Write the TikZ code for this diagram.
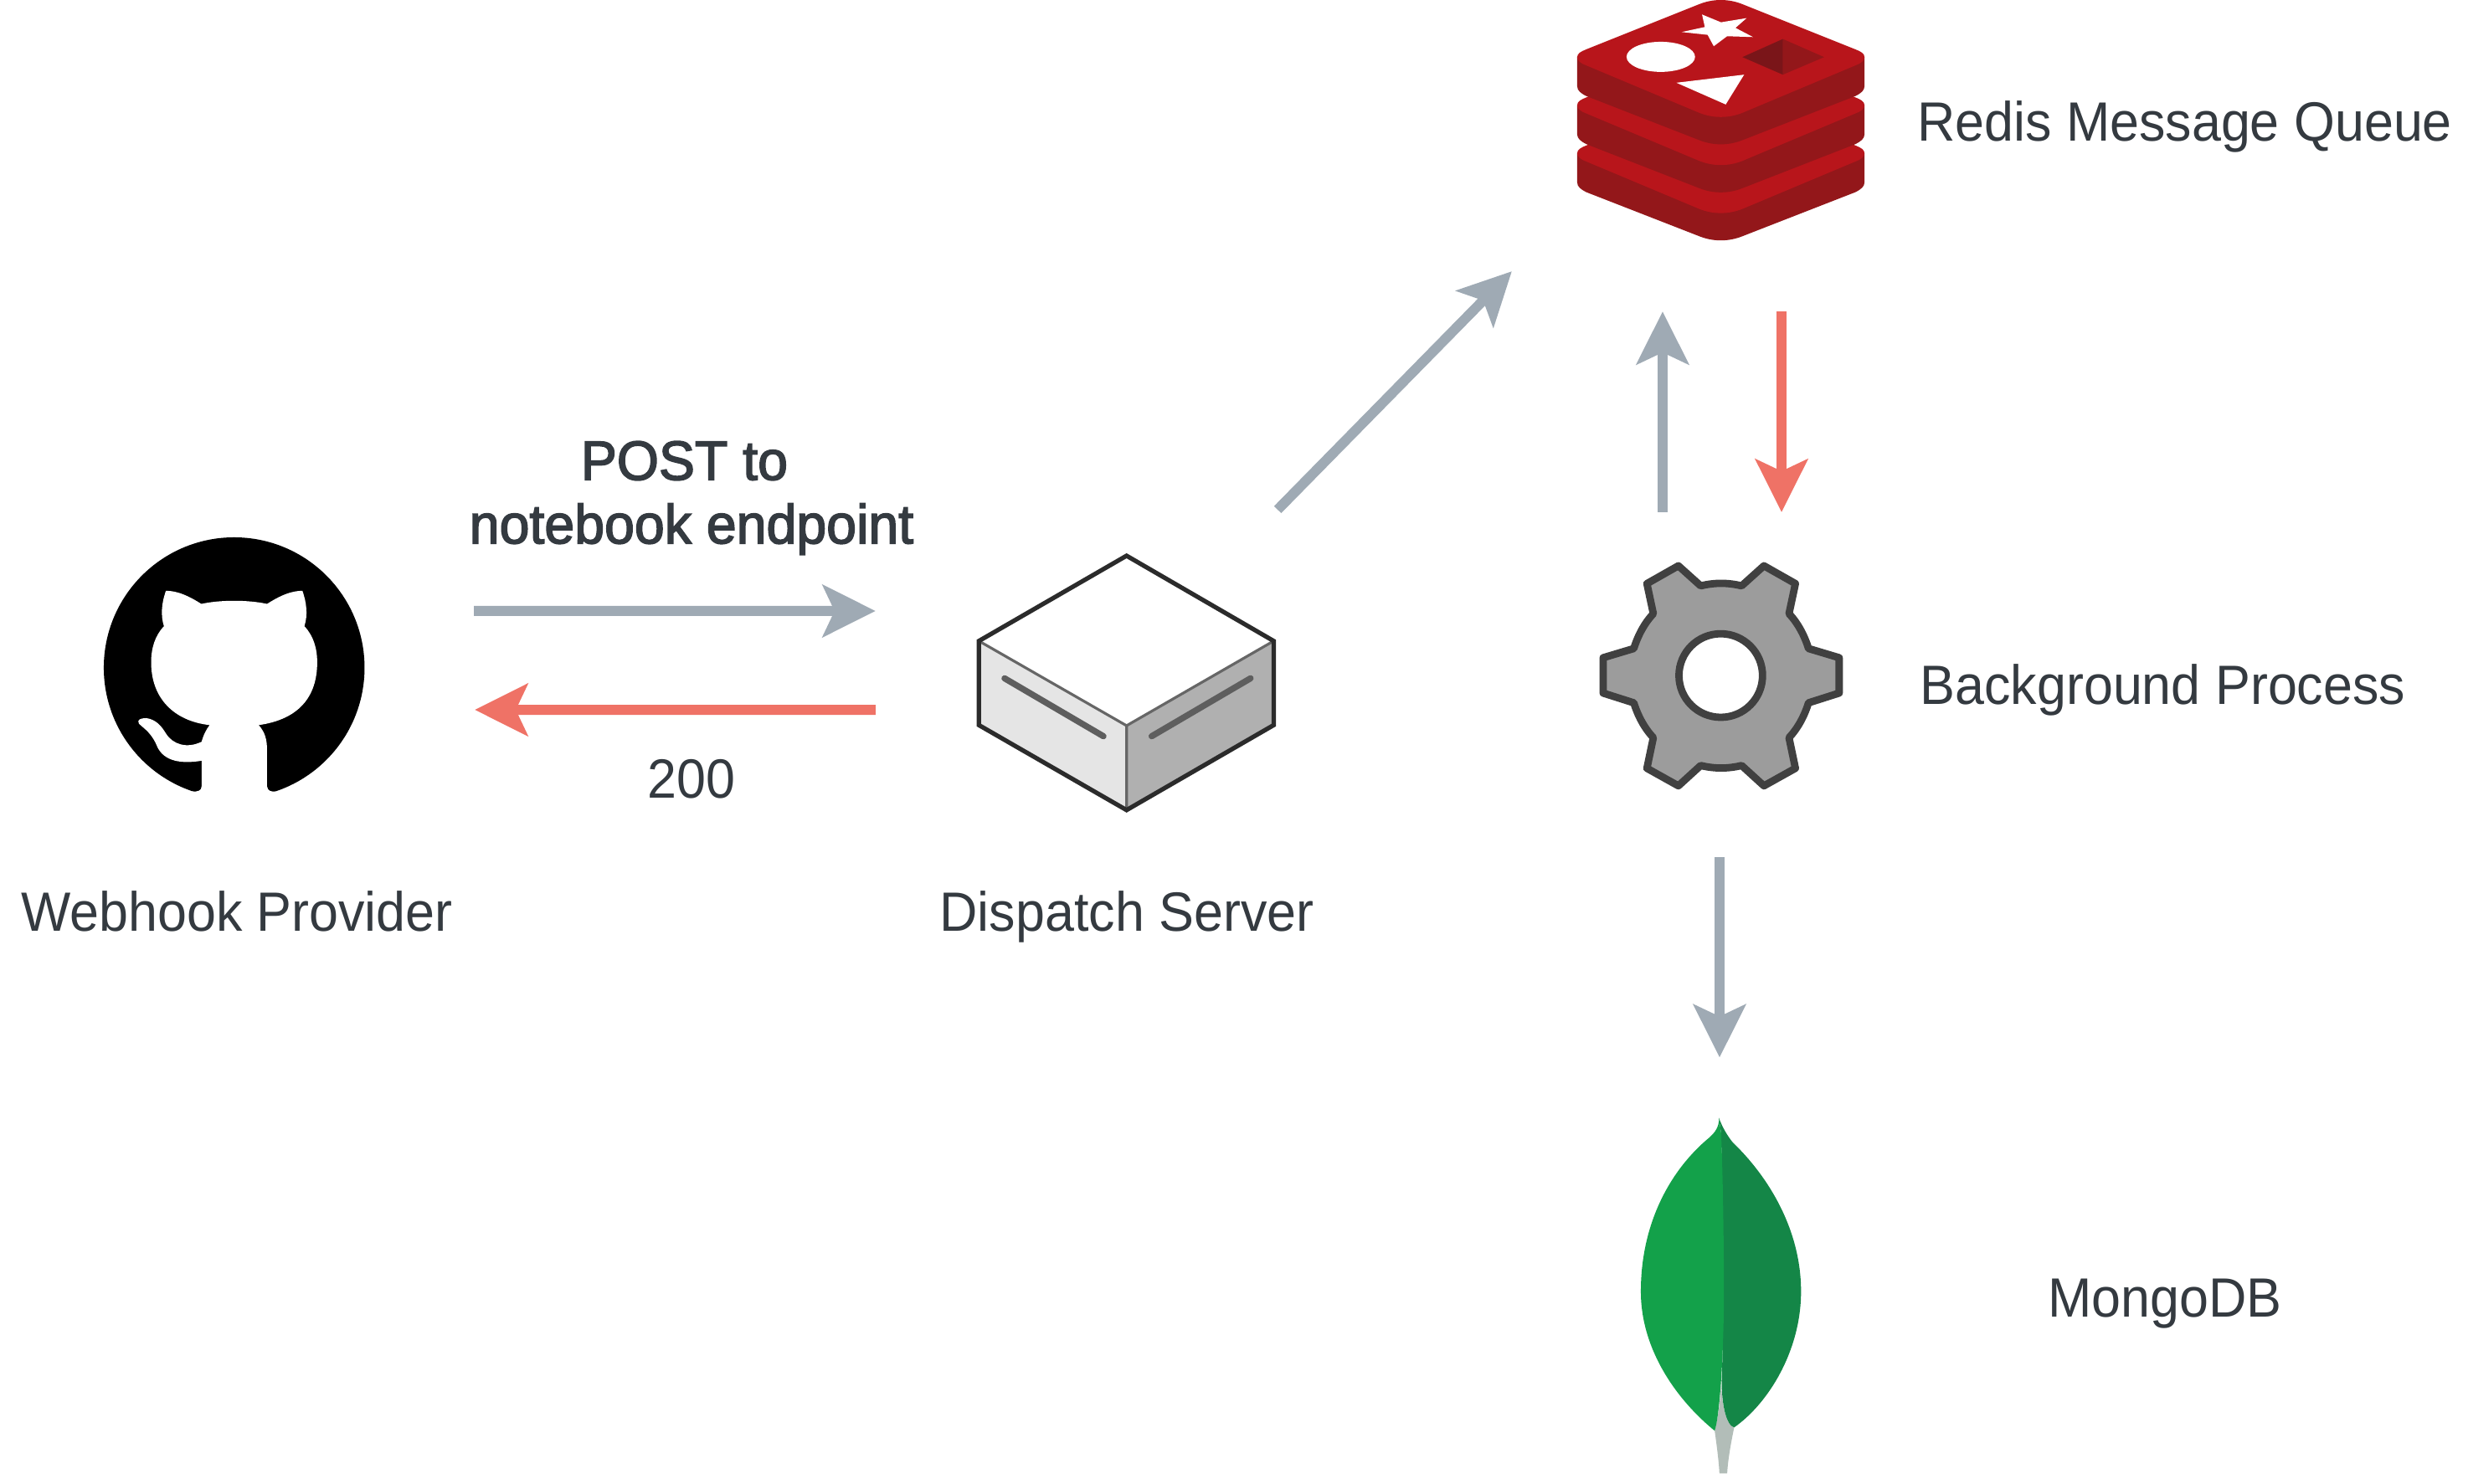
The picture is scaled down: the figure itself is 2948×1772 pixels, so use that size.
\documentclass[tikz,border=0pt]{standalone}
\usepackage{fontspec}
\setmainfont[FakeStretch=0.95]{Liberation Sans}
\newfontfamily\medfont[FakeStretch=0.975,FakeBold=2.4]{Liberation Sans}
\usetikzlibrary{arrows.meta,positioning}
\definecolor{textdark}{HTML}{343A40}
\definecolor{flowgrey}{HTML}{9FAAB4}
\definecolor{flowred}{HTML}{EF7266}
\definecolor{redisface}{HTML}{B8151B}
\definecolor{redisside}{HTML}{93171A}
\definecolor{redisdark}{HTML}{7A1519}
\definecolor{leaflight}{HTML}{13A14A}
\definecolor{leafdark}{HTML}{148647}
\definecolor{leafstem}{HTML}{B2BDB8}
\newcommand{\redislayer}{%
\fill[redisside] (72,205) -- (72,310) .. controls (72,325) and (85,335) .. (105,345) -- (510,503) .. controls (560,523) and (615,523) .. (665,503) -- (1070,345) .. controls (1090,335) and (1103,325) .. (1103,310) -- (1103,205) -- cycle;
\fill[redisface] (72,205) .. controls (72,192) and (85,185) .. (105,177) -- (510,15) .. controls (560,-5) and (615,-5) .. (665,15) -- (1070,177) .. controls (1090,185) and (1103,192) .. (1103,205) .. controls (1103,218) and (1090,228) .. (1070,235) -- (665,405) .. controls (615,425) and (560,425) .. (510,405) -- (105,235) .. controls (85,228) and (72,218) .. (72,205) -- cycle;
}
\begin{document}
\begin{tikzpicture}[x=0.01cm,y=-0.01cm,node distance=1cm,
icon/.style={inner sep=0pt,outer sep=0pt},
caption/.style={inner sep=0pt,outer sep=0pt,text=textdark,text height=0.5cm,text depth=0.14cm,font=\fontsize{18.8pt}{21.6pt}\selectfont},
arrow/.style={-{Stealth[length=17.9pt,width=17.6pt,inset=4pt]},line width=3.4pt,draw=flowgrey},
backarrow/.style={arrow,draw=flowred},
zoomed/.style={x=0.0033333cm,y=-0.0033333cm}]
\useasboundingbox (0,0) rectangle (2948,1772);

\node[icon,minimum width=3.12cm,minimum height=3.12cm] (webhook) at (280,798) {};
\node[icon,minimum width=3.58cm,minimum height=3.10cm] (server) at (1346,816) {};
\node[icon,minimum width=3.44cm,minimum height=2.88cm] (redis) at (2056,144) {};
\node[icon,minimum width=2.91cm,minimum height=2.72cm] (worker) at (2056,807) {};
\node[icon,minimum width=1.92cm,minimum height=4.27cm] (mongo) at (2056,1548) {};

\node[caption,below=1.08cm of webhook,xshift=0.03cm] (webhooklabel) {Webhook Provider};
\node[caption,below=0.91cm of server] (serverlabel) {Dispatch Server};
\node[caption,right=0.62cm of redis,yshift=-0.06cm] (redislabel) {Redis Message Queue};
\node[caption,right=0.92cm of worker,yshift=-0.16cm] (workerlabel) {Background Process};
\node[caption,right=2.94cm of mongo,yshift=-0.07cm] (mongolabel) {MongoDB};
\node[caption,text height=,text depth=,align=center,font=\fontsize{18.8pt}{21.6pt}\medfont] (post) at (826,595) {POST to\kern0.26em\\notebook endpoint};
\node[caption] (status) at (826,935) {200};

\draw[arrow,shorten <=1.30cm,shorten >=1.21cm] ([yshift=0.68cm]webhook.east) -- ([yshift=0.86cm]server.west);
\draw[backarrow,shorten <=1.21cm,shorten >=1.31cm] ([yshift=-0.32cm]server.west) -- ([yshift=-0.50cm]webhook.east);
\draw[arrow] ([xshift=1.80cm,yshift=0.52cm]server.north) -- ([xshift=-2.50cm,yshift=-0.36cm]redis.south);
\draw[arrow] ([xshift=-0.70cm,yshift=0.59cm]worker.north) -- ([xshift=-0.70cm,yshift=-0.84cm]redis.south);
\draw[backarrow] ([xshift=0.72cm,yshift=-0.84cm]redis.south) -- ([xshift=0.72cm,yshift=0.59cm]worker.north);
\draw[arrow] ([xshift=-0.02cm,yshift=-0.81cm]worker.south) -- ([xshift=-0.02cm,yshift=0.71cm]mongo.north);

\begin{scope}[shift={(100,620)},zoomed]
\fill[black] (540,534) circle [radius=468];
\fill[white] (295,258) .. controls (345,258) and (390,285) .. (422,305) .. controls (490,290) and (590,290) .. (658,305) .. controls (690,285) and (735,258) .. (785,258) .. controls (800,300) and (805,345) .. (792,385) .. controls (825,420) and (838,465) .. (838,515) .. controls (838,640) and (770,720) .. (628,740) .. controls (650,765) and (658,790) .. (658,830) -- (658,960) .. controls (660,978) and (675,980) .. (690,978) -- (690,1010) -- (390,1010) -- (390,978) .. controls (410,980) and (423,975) .. (423,960) -- (423,868) .. controls (350,880) and (290,870) .. (265,820) .. controls (245,770) and (220,755) .. (198,735) .. controls (190,720) and (205,715) .. (225,715) .. controls (260,720) and (280,745) .. (295,770) .. controls (320,810) and (370,825) .. (423,800) .. controls (430,775) and (440,755) .. (452,740) .. controls (320,725) and (242,640) .. (242,515) .. controls (242,465) and (255,420) .. (288,385) .. controls (275,345) and (280,300) .. (295,258) -- cycle;
\end{scope}

\begin{scope}[shift={(1140,640)},zoomed]
\fill[white] (618,72) -- (1146,378) -- (618,682) -- (88,378) -- cycle;
\fill[black!10] (88,378) -- (618,682) -- (618,985) -- (88,680) -- cycle;
\fill[black!31] (1146,378) -- (618,682) -- (618,985) -- (1146,680) -- cycle;
\draw[black!60,line width=0.9pt] (88,378) -- (618,682) -- (1146,378) (618,682) -- (618,985);
\draw[black!63,line width=2.1pt,line cap=round] (180,512) -- (535,720) (1063,512) -- (708,720);
\draw[black!83,line width=1.5pt,line join=miter] (618,72) -- (1146,378) -- (1146,680) -- (618,985) -- (88,680) -- (88,378) -- cycle;
\end{scope}

\begin{scope}[shift={(1860,0)},zoomed]
\foreach \dy in {345,172.5,0} {
\begin{scope}[shift={(0,\dy)}]
\redislayer
\end{scope}
}
\fill[white] (520,52) -- (588,80) -- (680,65) -- (640,100) -- (703,133) -- (610,130) -- (562,166) -- (540,125) -- (447,115) -- (530,97) -- cycle;
\fill[white] (372,204) ellipse [x radius=123,y radius=54];
\fill[white] (428,297) -- (671,268) -- (605,375) -- cycle;
\fill[redisside] (810,140) -- (958,205) -- (810,268) -- cycle;
\fill[redisdark] (810,140) -- (665,205) -- (810,268) -- cycle;
\end{scope}

\begin{scope}[shift={(1890,650)},zoomed]
\draw[fill=black!39,draw=black!75,line width=2.5pt,line join=round] (425,150) .. controls (475,138) and (522,138) .. (572,150) -- (652,78) -- (765,142) -- (742,250) .. controls (775,285) and (798,330) .. (812,375) -- (922,408) -- (922,535) -- (812,570) .. controls (798,615) and (775,660) .. (742,695) -- (765,805) -- (652,868) -- (572,795) .. controls (522,807) and (475,807) .. (425,795) -- (345,868) -- (232,805) -- (255,695) .. controls (222,660) and (199,615) .. (185,570) -- (75,535) -- (75,408) -- (185,375) .. controls (199,330) and (222,285) .. (255,250) -- (232,142) -- (345,78) -- cycle;
\draw[fill=white,draw=black!75,line width=2.5pt] (497,472) circle [radius=150];
\end{scope}

\begin{scope}[shift={(1930,1320)},zoomed]
\fill[leafstem] (378,990) .. controls (375,1080) and (365,1130) .. (355,1170) .. controls (362,1220) and (370,1280) .. (372,1323) -- (400,1323) .. controls (402,1280) and (412,1220) .. (425,1158) .. controls (395,1150) and (380,1070) .. (378,990) -- cycle;
\fill[leafdark] (370,47) .. controls (385,85) and (400,110) .. (420,135) .. controls (540,250) and (665,440) .. (665,670) .. controls (665,880) and (550,1070) .. (425,1158) .. controls (395,1150) and (380,1070) .. (380,990) .. controls (388,800) and (388,500) .. (378,100) -- cycle;
\fill[leaflight] (370,47) .. controls (372,80) and (355,100) .. (335,118) .. controls (200,230) and (90,420) .. (90,670) .. controls (90,880) and (220,1060) .. (355,1170) .. controls (375,1110) and (388,870) .. (388,680) .. controls (388,500) and (385,260) .. (378,100) -- cycle;
\end{scope}
\end{tikzpicture}
\end{document}
